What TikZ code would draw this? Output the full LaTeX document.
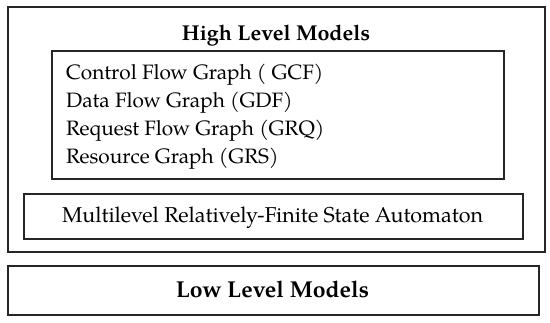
\documentclass[tikz,border=0pt]{standalone}
\usepackage{fontspec}
\setmainfont{TeX Gyre Pagella}
\begin{document}
\begin{tikzpicture}[x=1pt,y=-1pt,
  box/.style={draw=black!85,line width=1.6pt,inner sep=0pt},
  txt/.style={inner sep=0pt,font=\fontsize{21.5}{28}\selectfont},
  ltxt/.style={inner sep=0pt,font=\fontsize{20.8}{28}\selectfont},
  btxt/.style={inner sep=0pt,font=\fontsize{21.5}{28}\selectfont\bfseries},
  bbtxt/.style={inner sep=0pt,font=\fontsize{23}{28}\selectfont\bfseries}]
\useasboundingbox (0,0) rectangle (550,322);
\node[box,minimum width=537pt,minimum height=245pt,anchor=north west] (outer) at (7,6) {};
\node[btxt,anchor=base] (title) at (276,40) {High Level Models};
\node[box,minimum width=452pt,minimum height=128pt,anchor=north west] (graphs) at (51,50) {};
\node[ltxt,anchor=base west] (l1) at (66,79) {Control Flow Graph ( GCF)};
\node[ltxt,anchor=base west] (l2) at (66,107) {Data Flow Graph (GDF)};
\node[ltxt,anchor=base west] (l3) at (66,135) {Request Flow Graph (GRQ)};
\node[ltxt,anchor=base west] (l4) at (66,163) {Resource Graph (GRS)};
\node[box,minimum width=499pt,minimum height=45pt,anchor=north west] (auto) at (23,193) {};
\node[txt,anchor=base] (autot) at (272.5,222) {Multilevel Relatively-Finite State Automaton};
\node[box,minimum width=531pt,minimum height=49pt,anchor=north west] (low) at (7,265) {};
\node[bbtxt,anchor=base] (lowt) at (272.5,297) {Low Level Models};
\end{tikzpicture}
\end{document}
